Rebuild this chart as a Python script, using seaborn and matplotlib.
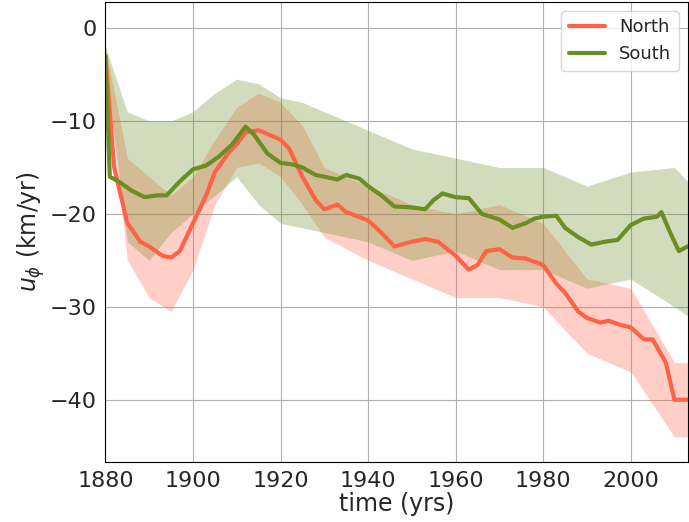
import numpy as np, matplotlib
matplotlib.use("Agg")
import matplotlib.pyplot as plt
import seaborn as sns

n_years = [1880,1882,1885,1888,1890,1893,1895,1897,1900,1903,1905,1908,1910,1912,1915,1920,1922,1925,1928,1930,1933,1935,1940,1943,1946,1950,1953,1956,1960,1963,1965,1967,1970,1973,1976,1980,1983,1985,1988,1990,1993,1995,1998,2000,2003,2005,2008,2010,2013]
n_vals = [-3,-15,-21,-23,-23.5,-24.5,-24.7,-24,-21,-18,-15.5,-13.5,-12.5,-11.2,-11,-12,-13,-16,-18.5,-19.5,-19,-19.8,-20.7,-22,-23.5,-23,-22.7,-23,-24.5,-26,-25.5,-24,-23.8,-24.7,-24.8,-25.5,-27.5,-28.5,-30.5,-31.2,-31.7,-31.5,-32,-32.2,-33.5,-33.5,-36,-40,-40]
s_years = [1880,1881,1883,1886,1889,1892,1894,1897,1900,1903,1906,1909,1912,1914,1917,1920,1923,1925,1928,1930,1933,1935,1938,1940,1943,1946,1950,1953,1955,1957,1960,1963,1966,1970,1973,1976,1978,1980,1983,1985,1988,1991,1994,1997,2000,2003,2006,2007,2009,2011,2013]
s_vals = [-3,-16,-16.5,-17.5,-18.2,-18,-18,-16.5,-15.2,-14.8,-13.8,-12.5,-10.6,-11.5,-13.5,-14.5,-14.7,-15,-15.8,-16,-16.3,-15.8,-16.2,-17,-18,-19.2,-19.3,-19.5,-18.5,-17.8,-18.2,-18.3,-20,-20.6,-21.5,-21,-20.5,-20.3,-20.2,-21.5,-22.5,-23.3,-23,-22.8,-21.2,-20.5,-20.3,-19.8,-22,-24,-23.5]
band_years = [1880,1885,1890,1895,1900,1905,1910,1915,1920,1925,1930,1940,1950,1960,1970,1980,1990,2000,2010,2013]
n_lo = [-4,-25,-29,-30.5,-26,-19,-15,-14.5,-16,-19,-22.5,-25,-27,-29,-29,-30,-35,-37,-44,-44]
n_hi = [-2,-14,-16,-18,-16,-12,-8.5,-7,-8,-10.5,-15,-17,-19,-20,-19,-21,-27,-28,-36,-36]
s_lo = [-4,-23,-25,-22,-20,-18,-16,-19,-21,-21.5,-22,-23,-25,-24,-26,-26,-28,-27,-30,-31]
s_hi = [-2,-9,-10,-10,-9,-7,-5.5,-6,-7.5,-8,-9,-11,-13,-14,-15,-15,-17,-15.5,-15,-16.5]

sns.set_style("whitegrid")
plt.rcParams['axes.edgecolor']='black'
fig, ax = plt.subplots(figsize=(6.89,5.22), dpi=100)
ax.fill_between(band_years, n_lo, n_hi, color='#ff6347', alpha=0.3, lw=0)
ax.fill_between(band_years, s_lo, s_hi, color='#6b8e23', alpha=0.3, lw=0)
sns.lineplot(x=n_years, y=n_vals, ax=ax, color='#ff6347', lw=3, label='North')
sns.lineplot(x=s_years, y=s_vals, ax=ax, color='#6b8e23', lw=3, label='South')
ax.set_xlim(1880,2013); ax.set_ylim(-46.7,2.8)
ax.set_xticks([1880,1900,1920,1940,1960,1980,2000])
ax.set_yticks([0,-10,-20,-30,-40])
ax.tick_params(labelsize=16, pad=3)
ax.set_xlabel('time (yrs)', fontsize=17, labelpad=1)
ax.set_ylabel(r'$u_\phi$ (km/yr)', fontsize=17, labelpad=2)
ax.grid(True, color='#b0b0b0', lw=0.8)
ax.legend(loc='upper right', fontsize=13)
fig.subplots_adjust(left=0.153, right=0.998, top=0.996, bottom=0.115)
fig.savefig('out.png')
